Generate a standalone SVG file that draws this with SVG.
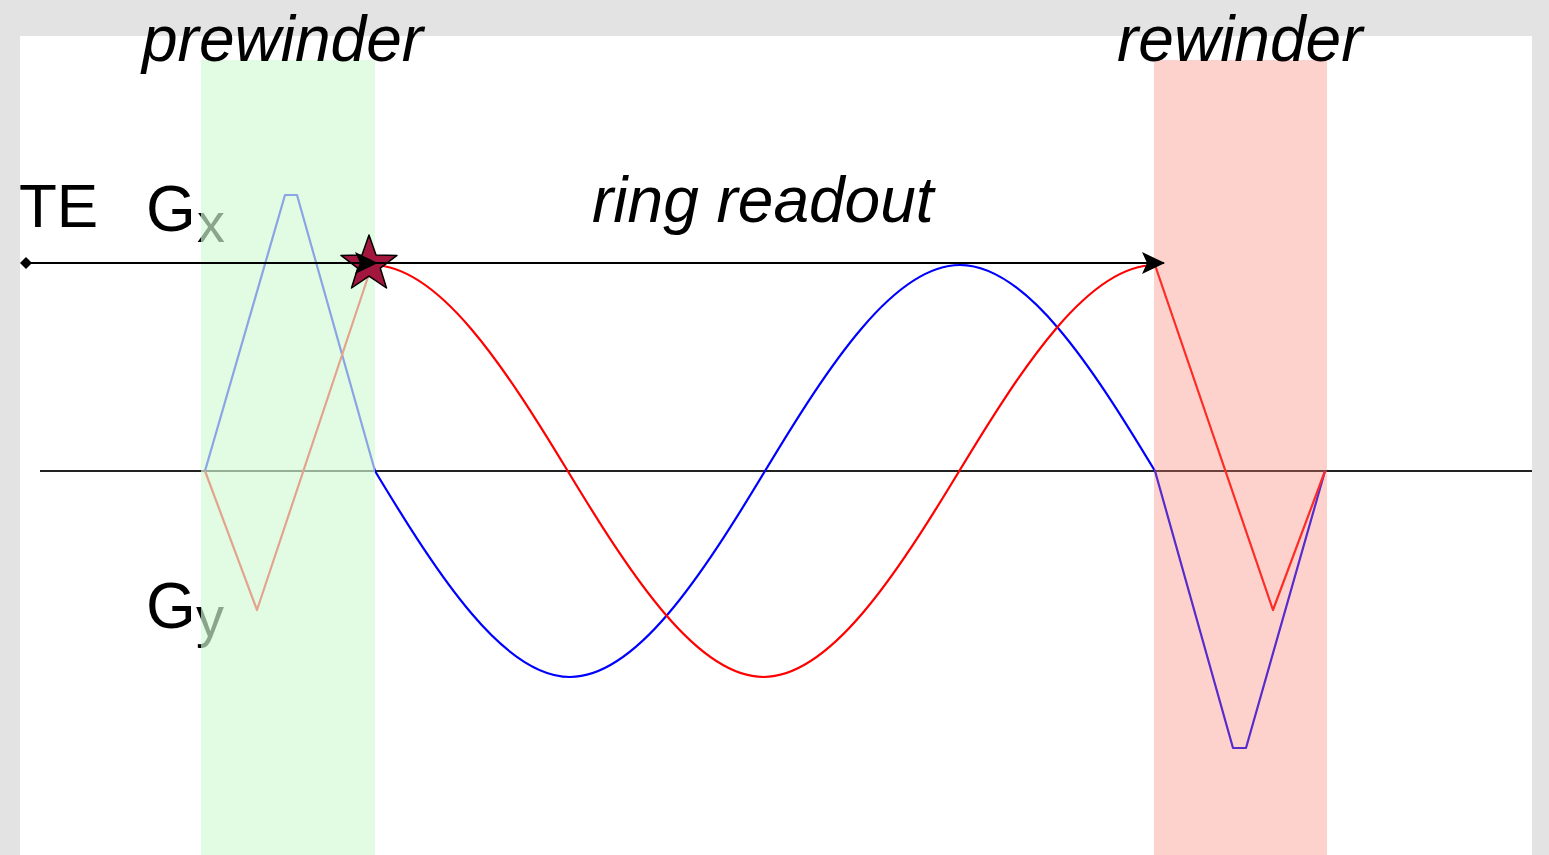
<svg xmlns="http://www.w3.org/2000/svg" width="1549" height="855" viewBox="0 0 1549 855">
  <style>
    .lbl { font-family: "Liberation Sans", Arial, sans-serif; fill: #000; }
    .it { font-style: italic; font-size: 64px; }
    .wave { fill: none; stroke-width: 2.2; stroke-linejoin: round; }
    .red { stroke: #ff0000; }
    .blue { stroke: #0000ff; }
    .conn { fill: none; stroke: #000; stroke-width: 2.2; }
  </style>
  <defs>
    <marker id="arrow" viewBox="0 0 23 22" refX="22" refY="11" markerWidth="23" markerHeight="22" markerUnits="userSpaceOnUse" orient="auto">
      <path d="M0,0 L23,11 L0,22 L5,11 Z" fill="#000"/>
    </marker>
    <marker id="diamond" viewBox="0 0 12 12" refX="6" refY="6" markerWidth="12" markerHeight="12" markerUnits="userSpaceOnUse" orient="auto">
      <path d="M0,6 L6,0 L12,6 L6,12 Z" fill="#000"/>
    </marker>
  </defs>

  <rect x="0" y="0" width="1549" height="855" fill="#e3e3e3"/>
  <rect x="20" y="36" width="1512" height="819" fill="#ffffff"/>

  <g id="axis">
    <line x1="40" y1="471" x2="1532" y2="471" stroke="#222" stroke-width="2.2"/>
  </g>

  <g id="gx-waveform">
    <polyline class="wave blue" points="205,471 285,195 297,195 375,471"/>
    <path class="wave blue" d="M375,471 C438.6,576.5 503.9,677 570,677 C636.1,677 701.4,576.5 765,471 C828.6,365.5 893.9,265 960,265 C1026.1,265 1091.4,365.5 1155,471"/>
    <polyline class="wave blue" points="1155,471 1233,748 1246,748 1325,471"/>
  </g>

  <g id="gy-waveform">
    <polyline class="wave red" points="205,471 257,610 372,265"/>
    <path class="wave red" d="M372,265 C438.3,265 503.9,365.5 567.75,471 C631.6,576.5 697.2,677 763.5,677 C829.8,677 895.4,576.5 959.25,471 C1023.1,365.5 1088.7,265 1155,265"/>
    <polyline class="wave red" points="1155,265 1273,610 1325,471"/>
  </g>

  <g id="gx-label">
    <text class="lbl" x="146" y="231" font-size="64">G</text>
    <text class="lbl" x="197" y="242" font-size="56">x</text>
  </g>
  <g id="gy-label">
    <text class="lbl" x="146" y="628" font-size="64">G</text>
    <text class="lbl" x="196" y="636" font-size="56">y</text>
  </g>

  <g id="prewinder">
    <rect x="201" y="60" width="174" height="795" fill="#d3f9d5" fill-opacity="0.66"/>
    <text class="lbl it" x="142" y="61">prewinder</text>
  </g>
  <g id="rewinder">
    <rect x="1154" y="60" width="173" height="795" fill="#f97e6d" fill-opacity="0.35"/>
    <text class="lbl it" x="1117" y="61">rewinder</text>
  </g>

  <g id="te-label">
    <text class="lbl" x="19" y="227" font-size="62">TE</text>
  </g>

  <g id="star">
    <polygon points="369,235 376,255 397,255.4 380.3,268.2 386.5,288 369,276.2 351.5,288 357.7,268.2 341,255.4 362,255" fill="#a3173f" stroke="#000" stroke-width="1.5" stroke-linejoin="round"/>
  </g>

  <g id="connectors">
    <line class="conn" x1="26" y1="263" x2="377" y2="263" marker-start="url(#diamond)" marker-end="url(#arrow)"/>
    <line class="conn" x1="372" y1="263" x2="1164" y2="263" marker-end="url(#arrow)"/>
  </g>

  <g id="ring-readout-label">
    <text class="lbl it" x="592" y="222">ring readout</text>
  </g>
</svg>
